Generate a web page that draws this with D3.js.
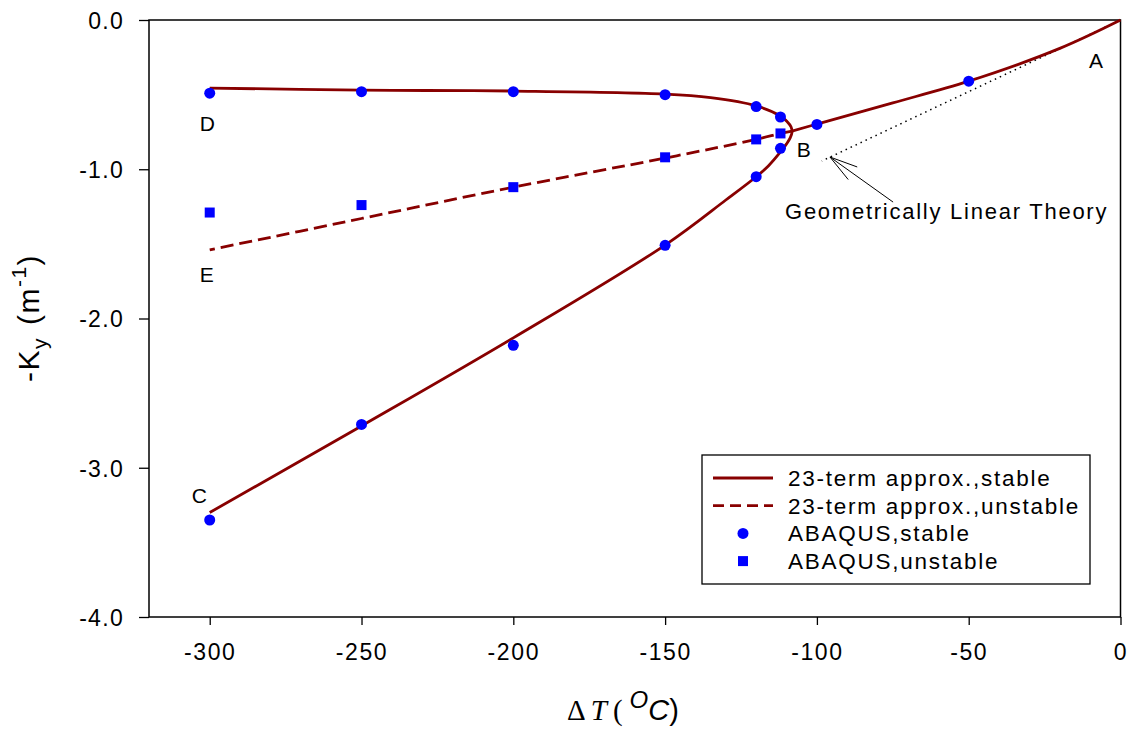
<!DOCTYPE html>
<html><head><meta charset="utf-8">
<script src="https://cdn.jsdelivr.net/npm/d3@7"></script>
<style>
html,body{margin:0;padding:0;background:#fff;}
svg text{font-family:"Liberation Sans",Arial,sans-serif;fill:#000;}
</style></head>
<body><svg id="c" width="1132" height="734"></svg>
<script>
// ---- data ----
const xTicks = [-300,-250,-200,-150,-100,-50,0];
const yTicks = [0,-1,-2,-3,-4];
const xTickLabels = ["-300","-250","-200","-150","-100","-50","0"];
const yTickLabels = ["0.0","-1.0","-2.0","-3.0","-4.0"];
// 23-term approx. curve: branch from A to bifurcation (stable)
const curveA_T = [0,-20,-50,-75,-100,-108.2];
const curveA_K = [0,-0.19,-0.41,-0.555,-0.697,-0.744];
// stable C-shaped curve from D through turning point to C
const curveDC_T = [-300,-250,-200,-150,-135,-120,-112,-110,-108.5,-108.2,-108.8,-110,-112,-116,-120,-130,-150,-200,-250,-300];
const curveDC_K = [-0.456,-0.47,-0.476,-0.496,-0.52,-0.575,-0.643,-0.677,-0.717,-0.752,-0.79,-0.83,-0.884,-0.978,-1.05,-1.206,-1.508,-2.13,-2.72,-3.30];
// unstable branch (dashed) from bifurcation to E
const curveE_T = [-108.2,-112,-120,-150,-200,-250,-300];
const curveE_K = [-0.744,-0.76,-0.80,-0.925,-1.12,-1.33,-1.54];
// geometrically linear theory
const linT = [0,-98.4];
const linK = [0,-0.945];
// ABAQUS stable (circles)
const abqS_T = [-300,-250,-200,-150,-120,-112,-100,-50,-112,-120,-150,-200,-250,-300];
const abqS_K = [-0.49,-0.48,-0.48,-0.50,-0.58,-0.65,-0.70,-0.41,-0.86,-1.05,-1.51,-2.18,-2.71,-3.35];
// ABAQUS unstable (squares)
const abqU_T = [-300,-250,-200,-150,-120,-112];
const abqU_K = [-1.29,-1.24,-1.12,-0.92,-0.80,-0.76];
// point labels
const ptLabels = ["A","B","C","D","E"];
const ptLabel_T = [-10.4,-106.6,-305.9,-303.3,-303.3];
const ptLabel_K = [-0.32,-0.918,-3.236,-0.744,-1.755];
const legendLabels = ["23-term approx.,stable","23-term approx.,unstable","ABAQUS,stable","ABAQUS,unstable"];

// ---- layout ----
const svg = d3.select("#c");
const L = 149, R = 1120.5, T = 20, B = 617;
const x = d3.scaleLinear().domain([-320,0]).range([L,R]);
const y = d3.scaleLinear().domain([-4,0]).range([B,T]);
const red = "#880000", blue = "#0000ff";
const zip = (a,b)=>a.map((v,i)=>[v,b[i]]);
const FF = "Liberation Sans, Arial, sans-serif";

// axes
const xa = svg.append("g").attr("transform",`translate(0,${B})`)
  .call(d3.axisBottom(x).tickValues(xTicks).tickSize(8).tickFormat((d,i)=>xTickLabels[i]));
xa.select(".domain").remove();
xa.selectAll("line").attr("stroke","#000").attr("stroke-width",1.3);
xa.selectAll("text").attr("y",43).attr("dy",0).attr("font-size",23)
  .style("letter-spacing","1.6px").attr("font-family",FF).attr("fill","#000");

const ya = svg.append("g").attr("transform",`translate(${L},0)`)
  .call(d3.axisLeft(y).tickValues(yTicks).tickSize(10).tickFormat((d,i)=>yTickLabels[i]));
ya.select(".domain").remove();
ya.selectAll("line").attr("stroke","#000").attr("stroke-width",1.3);
ya.selectAll("text").attr("x",-25).attr("dy","0.36em").attr("font-size",23)
  .style("letter-spacing","1.3px").attr("font-family",FF).attr("fill","#000");

// frame
svg.append("rect").attr("x",L).attr("y",T).attr("width",R-L).attr("height",B-T)
  .attr("fill","none").attr("stroke","#000").attr("stroke-width",1.5);

const line = d3.line().x(d=>x(d[0])).y(d=>y(d[1])).curve(d3.curveCatmullRom.alpha(0.5));

// linear theory dotted
svg.append("path").attr("d",d3.line().x(d=>x(d[0])).y(d=>y(d[1]))(zip(linT,linK)))
  .attr("fill","none").attr("stroke","#000").attr("stroke-width",1.5).attr("stroke-dasharray","1.5,4");

svg.append("path").attr("d",line(zip(curveA_T,curveA_K)))
  .attr("fill","none").attr("stroke",red).attr("stroke-width",2.8);
svg.append("path").attr("d",line(zip(curveDC_T,curveDC_K)))
  .attr("fill","none").attr("stroke",red).attr("stroke-width",2.8);
svg.append("path").attr("d",line(zip(curveE_T,curveE_K)))
  .attr("fill","none").attr("stroke",red).attr("stroke-width",2.8).attr("stroke-dasharray","13,6");

// markers
svg.selectAll("circle.s").data(zip(abqS_T,abqS_K)).join("circle")
  .attr("cx",d=>x(d[0])).attr("cy",d=>y(d[1])).attr("r",5.5).attr("fill",blue);
svg.selectAll("rect.u").data(zip(abqU_T,abqU_K)).join("rect")
  .attr("x",d=>x(d[0])-5).attr("y",d=>y(d[1])-5).attr("width",10).attr("height",10).attr("fill",blue);

// point labels
svg.selectAll("text.pl").data(ptLabels).join("text")
  .attr("x",(d,i)=>x(ptLabel_T[i])).attr("y",(d,i)=>y(ptLabel_K[i]))
  .attr("font-size",21).text(d=>d);

// annotation + arrow
const tip = [x(-95.7), y(-0.918)], tail = [x(-74.9), y(-1.22)];
svg.append("line").attr("x1",tail[0]).attr("y1",tail[1]).attr("x2",tip[0]).attr("y2",tip[1])
  .attr("stroke","#000").attr("stroke-width",1);
const ang = Math.atan2(tail[1]-tip[1], tail[0]-tip[0]);
[-0.27,0.27].forEach(da=>{
  svg.append("line").attr("x1",tip[0]).attr("y1",tip[1])
    .attr("x2",tip[0]+29*Math.cos(ang+da)).attr("y2",tip[1]+29*Math.sin(ang+da))
    .attr("stroke","#000").attr("stroke-width",1);
});
svg.append("text").attr("x",x(-110.5)).attr("y",y(-1.333)).attr("font-size",22)
  .style("letter-spacing","1.75px").text("Geometrically Linear Theory");

// legend
const lg = svg.append("g");
lg.append("rect").attr("x",702).attr("y",455).attr("width",388).attr("height",129)
  .attr("fill","#fff").attr("stroke","#000").attr("stroke-width",1.3);
const rowY = i=>478+i*27.7;
lg.append("line").attr("x1",713).attr("x2",773).attr("y1",rowY(0)).attr("y2",rowY(0)).attr("stroke",red).attr("stroke-width",2.8);
lg.append("line").attr("x1",713).attr("x2",773).attr("y1",rowY(1)).attr("y2",rowY(1)).attr("stroke",red).attr("stroke-width",2.8).attr("stroke-dasharray","11,6");
lg.append("circle").attr("cx",743).attr("cy",rowY(2)).attr("r",5.5).attr("fill",blue);
lg.append("rect").attr("x",738).attr("y",rowY(3)-5).attr("width",10).attr("height",10).attr("fill",blue);
lg.selectAll("text").data(legendLabels).join("text")
  .attr("x",788).attr("y",(d,i)=>rowY(i)+8).attr("font-size",22.5)
  .style("letter-spacing","1.75px").text(d=>d);

// axis titles
const yt = svg.append("text").attr("transform","translate(39,318) rotate(-90)")
  .attr("text-anchor","middle").attr("font-size",30).style("letter-spacing","1.5px");
yt.append("tspan").text("-K");
yt.append("tspan").attr("font-size",21).attr("dy",8).text("y");
yt.append("tspan").attr("dy",-8).attr("dx",12).text("(m");
yt.append("tspan").attr("font-size",21).attr("dy",-13).text("-1");
yt.append("tspan").attr("dy",13).text(")");

const xt = svg.append("text").attr("x",623).attr("y",720).attr("text-anchor","middle").attr("font-size",29);
xt.append("tspan").attr("font-family","Liberation Serif, serif").text("\u0394");
xt.append("tspan").attr("font-family","Liberation Serif, serif").attr("font-style","italic").attr("dx",5).text("T");
xt.append("tspan").attr("font-family","Liberation Serif, serif").attr("dx",6).text("(");
xt.append("tspan").attr("font-style","italic").attr("font-size",24).attr("dy",-12).attr("dx",7).text("O");
xt.append("tspan").attr("font-style","italic").attr("dy",12).text("C");
xt.append("tspan").text(")");
</script></body></html>
